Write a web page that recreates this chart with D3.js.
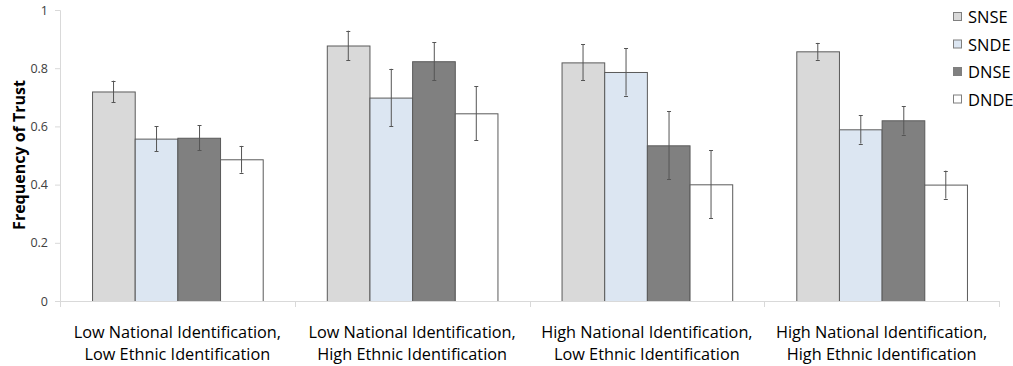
<!DOCTYPE html>
<html>
<head>
<meta charset="utf-8">
<script src="https://cdn.jsdelivr.net/npm/d3@7/dist/d3.min.js"></script>
<style>
  html, body { margin: 0; padding: 0; background: #fff; }
  svg { display: block; }
  text { font-family: "Open Sans", "Noto Sans", sans-serif; }
</style>
</head>
<body>
<svg id="chart" width="1013" height="366"></svg>
<script>
// ---- data ----
const categories = [
  ["Low National Identification,", "Low Ethnic Identification"],
  ["Low National Identification,", "High Ethnic Identification"],
  ["High National Identification,", "Low Ethnic Identification"],
  ["High National Identification,", "High Ethnic Identification"]
];
const seriesNames = ["SNSE", "SNDE", "DNSE", "DNDE"];
const seriesColors = ["#d9d9d9", "#dce6f2", "#808080", "#ffffff"];
const SNSE = [0.720, 0.878, 0.820, 0.858];
const SNDE = [0.558, 0.699, 0.787, 0.590];
const DNSE = [0.561, 0.824, 0.535, 0.621];
const DNDE = [0.487, 0.645, 0.401, 0.400];
const SNSE_err = [0.037, 0.051, 0.062, 0.029];
const SNDE_err = [0.043, 0.099, 0.081, 0.049];
const DNSE_err = [0.043, 0.066, 0.117, 0.049];
const DNDE_err = [0.046, 0.093, 0.117, 0.048];
const yTicks = [0, 0.2, 0.4, 0.6, 0.8, 1];
const yTickLabels = ["0", "0.2", "0.4", "0.6", "0.8", "1"];
const yTitle = "Frequency of Trust";

const values = [SNSE, SNDE, DNSE, DNDE];
const errors = [SNSE_err, SNDE_err, DNSE_err, DNDE_err];

// ---- layout ----
const svg = d3.select("#chart");
const mLeft = 60, mRight = 999, mTop = 10, mBottom = 301;
const catIdx = d3.range(categories.length);

const x0 = d3.scaleBand().domain(catIdx).range([mLeft, mRight])
  .paddingInner(0.273).paddingOuter(0.1365);
const x1 = d3.scaleBand().domain(d3.range(seriesNames.length)).range([0, x0.bandwidth()]);
const y = d3.scaleLinear().domain([0, 1]).range([mBottom, mTop]);

// y axis
const yAxis = svg.append("g").attr("transform", `translate(${mLeft},0)`)
  .call(d3.axisLeft(y).tickValues(yTicks).tickSize(5).tickPadding(7)
    .tickFormat((d, i) => yTickLabels[i]));
yAxis.select(".domain").attr("stroke", "#d9d9d9");
yAxis.selectAll(".tick line").attr("stroke", "#d9d9d9");
yAxis.selectAll(".tick text").attr("fill", "#404040").style("font-size", "12.5px")
  .style("font-family", '"Open Sans", sans-serif');

// bars
const groups = svg.append("g").selectAll("g").data(catIdx).join("g")
  .attr("transform", d => `translate(${x0(d)},0)`);

groups.selectAll("rect").data(c => seriesNames.map((s, i) => ({c, i, v: values[i][c]})))
  .join("rect")
  .attr("x", d => x1(d.i) + 0.5)
  .attr("y", d => y(d.v) + 0.5)
  .attr("width", x1.bandwidth())
  .attr("height", d => y(0) - y(d.v))
  .attr("fill", d => seriesColors[d.i])
  .attr("stroke", "#5a5a5a")
  .attr("stroke-width", 1);

// error bars
const eb = groups.selectAll("g.err").data(c => seriesNames.map((s, i) => ({c, i, v: values[i][c], e: errors[i][c]})))
  .join("g").attr("class", "err")
  .attr("stroke", "#555").attr("stroke-width", 1);
eb.append("line")
  .attr("x1", d => Math.round(x1(d.i) + x1.bandwidth() / 2) + 0.5)
  .attr("x2", d => Math.round(x1(d.i) + x1.bandwidth() / 2) + 0.5)
  .attr("y1", d => y(d.v + d.e)).attr("y2", d => y(d.v - d.e));
eb.append("line")
  .attr("x1", d => Math.round(x1(d.i) + x1.bandwidth() / 2) - 1.5)
  .attr("x2", d => Math.round(x1(d.i) + x1.bandwidth() / 2) + 2.5)
  .attr("y1", d => Math.round(y(d.v + d.e)) + 0.5).attr("y2", d => Math.round(y(d.v + d.e)) + 0.5);
eb.append("line")
  .attr("x1", d => Math.round(x1(d.i) + x1.bandwidth() / 2) - 1.5)
  .attr("x2", d => Math.round(x1(d.i) + x1.bandwidth() / 2) + 2.5)
  .attr("y1", d => Math.round(y(d.v - d.e)) + 0.5).attr("y2", d => Math.round(y(d.v - d.e)) + 0.5);

// x axis
const xg = svg.append("g");
xg.append("line").attr("x1", mLeft).attr("x2", mRight).attr("y1", mBottom + 0.5).attr("y2", mBottom + 0.5)
  .attr("stroke", "#d9d9d9");
const boundaries = catIdx.map(i => x0(i) - x0.step() * x0.paddingOuter()).concat([mRight]);
xg.selectAll("line.tk").data(boundaries).join("line").attr("class", "tk")
  .attr("x1", d => Math.round(d) + 0.5).attr("x2", d => Math.round(d) + 0.5)
  .attr("y1", mBottom).attr("y2", mBottom + 6).attr("stroke", "#d9d9d9");

const lab = xg.selectAll("text.cat").data(catIdx).join("text").attr("class", "cat")
  .attr("text-anchor", "middle")
  .attr("fill", "#000")
  .style("font-size", "16.3px");
lab.selectAll("tspan").data(c => categories[c].map(t => ({c, t}))).join("tspan")
  .attr("x", d => x0(d.c) + x0.bandwidth() / 2)
  .attr("y", (d, i) => 338 + i * 22)
  .text(d => d.t);

// y title
svg.append("text")
  .attr("transform", `translate(25,155) rotate(-90)`)
  .attr("text-anchor", "middle")
  .style("font-size", "16px").style("font-weight", "bold")
  .text(yTitle);

// legend
const leg = svg.append("g").selectAll("g").data(seriesNames).join("g")
  .attr("transform", (d, i) => `translate(953,${12 + i * 27.5})`);
leg.append("rect").attr("x", 0.5).attr("y", 0.5).attr("width", 8).attr("height", 8)
  .attr("fill", (d, i) => seriesColors[i]).attr("stroke", "#7f7f7f");
leg.append("text").attr("x", 15).attr("y", 11).style("font-size", "16.5px").attr("fill", "#000")
  .text(d => d);
</script>
</body>
</html>
